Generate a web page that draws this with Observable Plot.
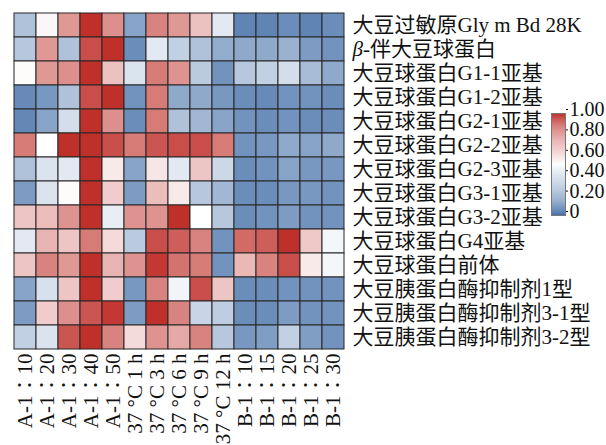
<!DOCTYPE html>
<html>
<head>
<meta charset="utf-8">
<script src="https://cdn.jsdelivr.net/npm/d3@7"></script>
<script src="https://cdn.jsdelivr.net/npm/@observablehq/plot@0.6"></script>
<style>
  html, body { margin: 0; padding: 0; background: #fff; }
  #chart { position: relative; width: 606px; height: 445px; overflow: hidden; }
  #chart svg { overflow: visible; }
  #legend { position: absolute; left: 551px; top: 105px; }
</style>
</head>
<body>
<div id="chart"><div id="main"></div><div id="legend"></div></div>
<script>
// Protein rows (top to bottom)
const proteins = [
  "大豆过敏原Gly m Bd 28K",
  "β-伴大豆球蛋白",
  "大豆球蛋白G1-1亚基",
  "大豆球蛋白G1-2亚基",
  "大豆球蛋白G2-1亚基",
  "大豆球蛋白G2-2亚基",
  "大豆球蛋白G2-3亚基",
  "大豆球蛋白G3-1亚基",
  "大豆球蛋白G3-2亚基",
  "大豆球蛋白G4亚基",
  "大豆球蛋白前体",
  "大豆胰蛋白酶抑制剂1型",
  "大豆胰蛋白酶抑制剂3-1型",
  "大豆胰蛋白酶抑制剂3-2型"
];

// Treatment columns (left to right)
const conditions = [
  "A-1∶10", "A-1∶20", "A-1∶30", "A-1∶40", "A-1∶50",
  "37 °C 1 h", "37 °C 3 h", "37 °C 6 h", "37 °C 9 h", "37 °C 12 h",
  "B-1∶10", "B-1∶15", "B-1∶20", "B-1∶25", "B-1∶30"
];

// Normalised relative abundance, one row per protein, one value per condition
const values = [
  [0.28, 0.52, 0.75, 1.00, 0.77, 0.17, 0.80, 0.75, 0.65, 0.42, 0.06, 0.06, 0.09, 0.06, 0.09],
  [0.30, 0.75, 0.28, 0.93, 1.00, 0.09, 0.42, 0.33, 0.28, 0.20, 0.19, 0.19, 0.22, 0.14, 0.11],
  [0.51, 0.75, 0.77, 1.00, 0.65, 0.40, 0.82, 0.76, 0.31, 0.11, 0.30, 0.33, 0.38, 0.26, 0.19],
  [0.08, 0.13, 0.28, 0.93, 1.00, 0.11, 0.82, 0.19, 0.19, 0.13, 0.09, 0.08, 0.11, 0.11, 0.09],
  [0.07, 0.17, 0.38, 1.00, 0.77, 0.09, 0.82, 0.28, 0.24, 0.17, 0.11, 0.09, 0.11, 0.09, 0.09],
  [0.82, 0.50, 1.00, 1.00, 0.93, 0.82, 0.91, 0.93, 0.93, 0.82, 0.11, 0.13, 0.19, 0.17, 0.19],
  [0.28, 0.40, 0.42, 1.00, 0.55, 0.17, 0.56, 0.42, 0.64, 0.36, 0.09, 0.11, 0.17, 0.13, 0.13],
  [0.14, 0.40, 0.51, 1.00, 0.62, 0.14, 0.66, 0.55, 0.30, 0.24, 0.09, 0.09, 0.13, 0.13, 0.11],
  [0.64, 0.66, 0.76, 1.00, 0.44, 0.76, 0.76, 1.00, 0.50, 0.30, 0.09, 0.11, 0.14, 0.11, 0.11],
  [0.42, 0.68, 0.64, 0.82, 0.59, 0.31, 0.93, 0.89, 0.80, 0.11, 0.86, 0.89, 1.00, 0.63, 0.47],
  [0.64, 0.80, 0.75, 1.00, 0.68, 0.76, 0.98, 0.84, 0.82, 0.11, 0.67, 0.80, 0.93, 0.55, 0.47],
  [0.17, 0.39, 0.64, 1.00, 0.62, 0.13, 0.80, 0.46, 0.93, 0.64, 0.09, 0.09, 0.11, 0.11, 0.11],
  [0.14, 0.62, 0.77, 0.91, 0.98, 0.14, 1.00, 0.80, 0.35, 0.32, 0.09, 0.09, 0.14, 0.11, 0.11],
  [0.33, 0.40, 0.91, 1.00, 0.80, 0.59, 0.76, 0.71, 0.80, 0.30, 0.13, 0.15, 0.33, 0.15, 0.11]
];

// Colour bar ticks
const legendTicks = [0, 0.2, 0.4, 0.6, 0.8, 1.0];

const colorScale = {
  type: "linear",
  domain: [0, 0.5, 1],
  range: ["#4a74ab", "#ffffff", "#c0302b"],
  interpolate: "rgb"
};

const fontFamily = '"Liberation Serif", "Noto Sans CJK SC", serif';

const cells = proteins.flatMap((p, i) =>
  conditions.map((c, j) => ({protein: p, condition: c, value: values[i][j]}))
);

const main = Plot.plot({
  width: 606,
  height: 445,
  marginLeft: 11,
  marginRight: 259,
  marginTop: 12,
  marginBottom: 95,
  style: {fontFamily, fontSize: "21px", color: "#111", background: "transparent"},
  x: {domain: conditions, padding: 0, axis: null},
  y: {domain: proteins, padding: 0, axis: null},
  color: colorScale,
  marks: [
    Plot.cell(cells, {x: "condition", y: "protein", fill: "value", stroke: "#262626", strokeWidth: 1, inset: 0}),
    Plot.axisX({anchor: "bottom", tickSize: 0, tickPadding: 3, tickRotate: -90, label: null, fontSize: 21}),
    Plot.axisY({anchor: "right", tickSize: 0, tickPadding: 5, label: null, fontSize: 21})
  ]
});

// italic β in the second row label
d3.select(main).selectAll("text").each(function () {
  const t = d3.select(this);
  const s = t.text();
  if (s.startsWith("β-")) {
    t.text(null);
    t.append("tspan").attr("font-style", "italic").text("β");
    t.append("tspan").text(s.slice(1));
  }
});

document.getElementById("main").appendChild(main);

// Vertical colour bar
const steps = d3.range(0, 1, 0.01);
const legend = Plot.plot({
  width: 55,
  height: 120,
  marginLeft: 0,
  marginRight: 41,
  marginTop: 8,
  marginBottom: 10,
  style: {fontFamily, fontSize: "20px", color: "#111", background: "transparent"},
  x: {domain: [0, 1], axis: null},
  y: {domain: [0, 1], axis: null},
  color: colorScale,
  marks: [
    Plot.rect(steps, {x1: 0, x2: 1, y1: d => d, y2: d => d + 0.0101, fill: d => d + 0.005}),
    Plot.frame({stroke: "#777", strokeWidth: 1}),
    Plot.axisY({
      anchor: "right",
      ticks: legendTicks,
      tickSize: 2,
      tickPadding: 2,
      dy: -4,
      label: null,
      fontSize: 20,
      tickFormat: d => d === 0 ? "0" : d.toFixed(2)
    })
  ]
});
document.getElementById("legend").appendChild(legend);
</script>
</body>
</html>
